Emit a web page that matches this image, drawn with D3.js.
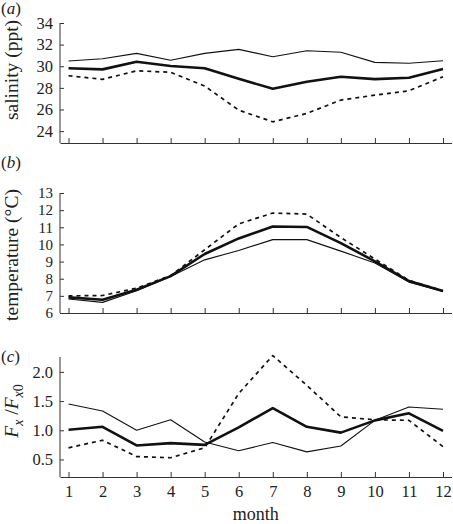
<!DOCTYPE html>
<html><head><meta charset="utf-8">
<script src="https://cdn.jsdelivr.net/npm/d3@7"></script>
<style>body{margin:0;background:#fff}svg{display:block}</style>
</head><body>
<script>
const months = [1,2,3,4,5,6,7,8,9,10,11,12];
// panel (a) salinity
const salThin  = [30.48,30.70,31.19,30.55,31.19,31.56,30.88,31.44,31.29,30.36,30.27,30.51];
const salThick = [29.81,29.71,30.42,30.02,29.81,28.84,27.92,28.57,29.03,28.81,28.94,29.74];
const salDash  = [29.12,28.79,29.58,29.44,28.17,25.94,24.86,25.64,26.87,27.33,27.73,29.03];
const salTicks = [24,26,28,30,32,34];
// panel (b) temperature
const tmpThin  = [6.82,6.62,7.30,8.13,9.10,9.65,10.28,10.28,9.61,8.92,7.80,7.25];
const tmpThick = [6.91,6.77,7.36,8.15,9.44,10.35,11.05,11.02,10.08,9.01,7.86,7.28];
const tmpDash  = [7.00,7.02,7.45,8.18,9.69,11.20,11.83,11.77,10.40,9.15,7.90,7.30];
const tmpTicks = [6,7,8,9,10,11,12,13];
// panel (c) Fx/Fx0
const fThin  = [1.45,1.33,1.00,1.18,0.80,0.65,0.79,0.63,0.73,1.17,1.40,1.36];
const fThick = [1.01,1.06,0.74,0.78,0.75,1.05,1.38,1.06,0.96,1.17,1.29,0.99];
const fDash  = [0.70,0.83,0.55,0.53,0.70,1.63,2.28,1.77,1.23,1.18,1.17,0.72];
const fTicks = [0.5,1.0,1.5,2.0];

const W = 453, H = 524;
const svg = d3.select("body").append("svg").attr("width", W).attr("height", H);
const font = "'Liberation Serif','Times New Roman',serif";
const x = d3.scaleLinear().domain([0.75, 12.25]).range([60, 451.5]);

const panels = [
  {label:"a", top:23, dom:[22.9,34], ticks:salTicks, fmt:d3.format("d"), series:[salThin,salThick,salDash], ylab:"salinity (ppt)", labY:14, ylabC:70},
  {label:"b", top:193, dom:[6,13], ticks:tmpTicks, fmt:d3.format("d"), series:[tmpThin,tmpThick,tmpDash], ylab:"temperature (°C)", labY:168, ylabC:255},
  {label:"c", top:357, dom:[0.2,2.255], ticks:fTicks, fmt:d3.format(".1f"), series:[fThin,fThick,fDash], ylab:null, labY:362, ylabC:411}
];
const styles = [
  {w:1.1, dash:null},
  {w:2.6, dash:null},
  {w:1.7, dash:"4,4"}
];

panels.forEach((p, i) => {
  const y = d3.scaleLinear().domain(p.dom).range([p.top + 120, p.top]);
  const g = svg.append("g");
  // y axis
  const ya = g.append("g").attr("transform", "translate(60,0)")
    .call(d3.axisLeft(y).tickValues(p.ticks).tickFormat(p.fmt).tickSizeInner(-4).tickSizeOuter(0).tickPadding(7));
  ya.select(".domain").attr("d", `M0,${p.top}V${p.top+120}`);
  // x axis
  const xa = g.append("g").attr("transform", `translate(0,${p.top+120})`)
    .call(d3.axisBottom(x).tickValues(months).tickSizeInner(-5).tickSizeOuter(0).tickPadding(8)
      .tickFormat(i === 2 ? d3.format("d") : ""));
  [ya, xa].forEach(a => {
    a.selectAll(".domain,line").attr("stroke", "#333").attr("stroke-width", 1);
    a.selectAll("text").attr("font-family", font).attr("font-size", 16.5).attr("fill", "#222");
  });
  if (i === 1) ya.selectAll("text").attr("font-size", 15);
  xa.selectAll("text").attr("dy", "0.71em");
  // lines
  const line = d3.line().x((d, j) => x(months[j])).y(d => y(d));
  p.series.forEach((s, k) => {
    g.append("path").datum(s).attr("d", line).attr("fill", "none")
      .attr("stroke", "#111").attr("stroke-width", styles[k].w)
      .attr("stroke-dasharray", styles[k].dash).attr("stroke-linejoin", "round");
  });
  // panel label
  const t = svg.append("text").attr("x", 1).attr("y", p.labY).attr("font-family", font).attr("font-size", 17).attr("fill", "#222");
  t.append("tspan").text("(");
  t.append("tspan").attr("font-style", "italic").text(p.label);
  t.append("tspan").text(")");
  // y label
  const yl = svg.append("text").attr("transform", `translate(18,${p.ylabC}) rotate(-90)`)
    .attr("text-anchor", "middle").attr("font-family", font).attr("font-size", 19.5).attr("fill", "#222");
  if (p.ylab) {
    yl.text(p.ylab);
  } else {
    yl.append("tspan").attr("font-style", "italic").text("F");
    yl.append("tspan").attr("font-style", "italic").attr("font-size", 14).attr("dy", 5).text("x");
    yl.append("tspan").attr("dy", -5).text(" /");
    yl.append("tspan").attr("font-style", "italic").text("F");
    yl.append("tspan").attr("font-style", "italic").attr("font-size", 14).attr("dy", 5).text("x");
    yl.append("tspan").attr("font-size", 14).text("0");
  }
});
svg.append("text").attr("x", x(6.5)).attr("y", 520).attr("text-anchor", "middle")
  .attr("font-family", font).attr("font-size", 18).attr("fill", "#222").text("month");
</script>
</body></html>
